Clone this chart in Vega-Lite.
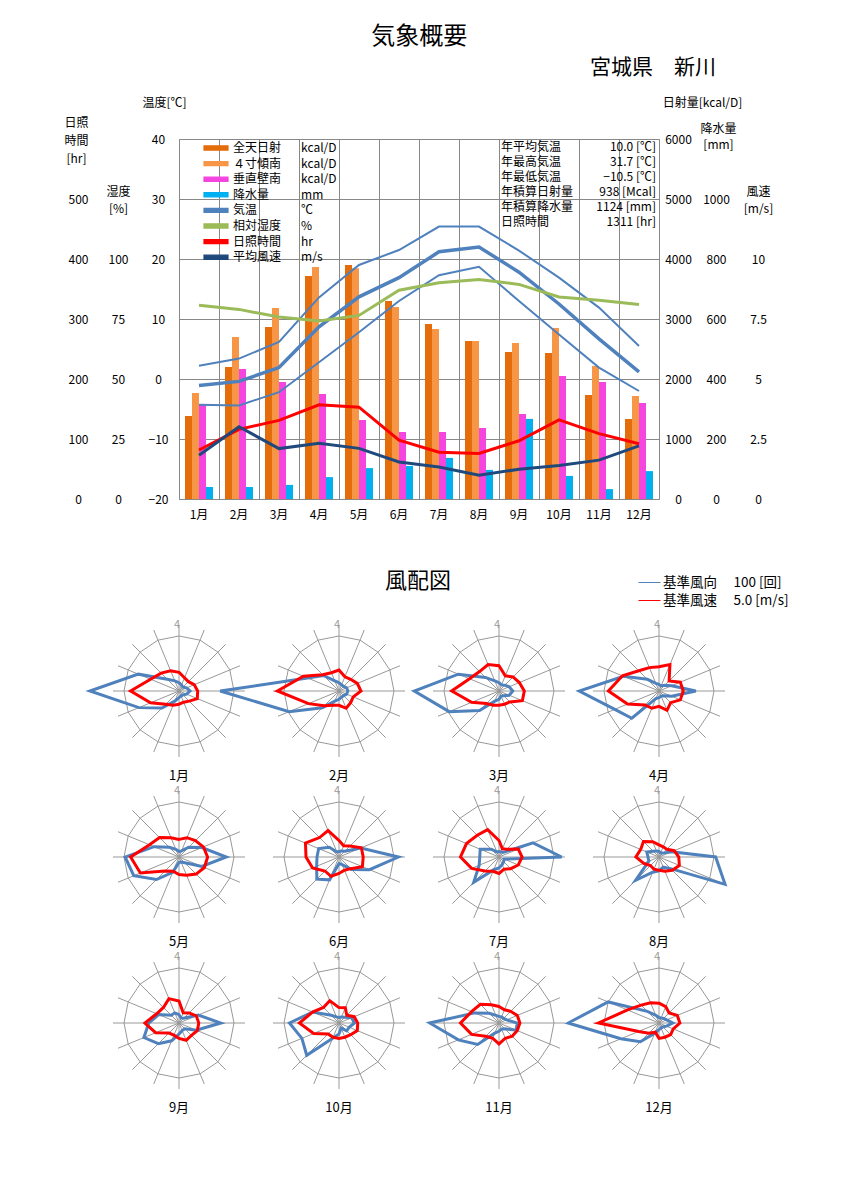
{
 "$schema": "https://vega.github.io/schema/vega-lite/v6.json",
 "background": "white",
 "padding": {"left": 63, "top": 24, "right": 5, "bottom": 5},
 "resolve": {"scale": {"color": "independent"}, "legend": {"color": "independent"}},
 "config": {
  "font": "Noto Sans CJK JP",
  "view": {"stroke": null},
  "axis": {"labelFont": "Noto Sans CJK JP", "titleFont": "Noto Sans CJK JP", "labelColor": "#000", "titleColor": "#000", "labelFontSize": 12, "titleFontSize": 12, "titleFontWeight": "normal"},
  "legend": {"labelFont": "Noto Sans CJK JP", "labelFontSize": 12, "labelColor": "#000"},
  "title": {"font": "Noto Sans CJK JP", "fontWeight": "normal", "color": "#000"},
  "header": {"labelFont": "Noto Sans CJK JP", "labelFontSize": 13, "labelColor": "#000"}
 },
 "title": {"text": "気象概要", "fontSize": 24, "anchor": "middle", "offset": 8, "dx": -12},
 "spacing": 49,
 "vconcat": [
  {
   "width": 480,
   "height": 360,
   "view": {"stroke": "#888"},
   "title": {"text": "宮城県　新川", "fontSize": 21, "anchor": "end", "frame": "group", "dx": 57, "offset": 18},
   "data": {"values": [
    {"m": "1月", "全天日射": 1383, "４寸傾南": 1767, "垂直壁南": 1567, "降水量": 40, "最高": 2.2, "平均": -1.1, "最低": -4.3, "相対湿度": 80.7, "日照時間": 81.7, "平均風速": 1.82},
    {"m": "2月", "全天日射": 2200, "４寸傾南": 2700, "垂直壁南": 2167, "降水量": 40, "最高": 3.4, "平均": -0.4, "最低": -4.4, "相対湿度": 79.0, "日照時間": 116, "平均風速": 3.01},
    {"m": "3月", "全天日射": 2867, "４寸傾南": 3183, "垂直壁南": 1950, "降水量": 47, "最高": 6.2, "平均": 1.9, "最低": -2.2, "相対湿度": 75.8, "日照時間": 131, "平均風速": 2.10},
    {"m": "4月", "全天日射": 3717, "４寸傾南": 3867, "垂直壁南": 1750, "降水量": 73, "最高": 13.6, "平均": 8.7, "最低": 2.8, "相対湿度": 74.2, "日照時間": 157, "平均風速": 2.32},
    {"m": "5月", "全天日射": 3900, "４寸傾南": 3845, "垂直壁南": 1317, "降水量": 103, "最高": 19.0, "平均": 13.7, "最低": 7.8, "相対湿度": 76.5, "日照時間": 153, "平均風速": 2.11},
    {"m": "6月", "全天日射": 3300, "４寸傾南": 3200, "垂直壁南": 1117, "降水量": 110, "最高": 21.5, "平均": 16.9, "最低": 13.0, "相対湿度": 87.0, "日照時間": 98, "平均風速": 1.54},
    {"m": "7月", "全天日射": 2917, "４寸傾南": 2833, "垂直壁南": 1117, "降水量": 137, "最高": 25.4, "平均": 21.2, "最低": 17.3, "相対湿度": 90.1, "日照時間": 78, "平均風速": 1.33},
    {"m": "8月", "全天日射": 2633, "４寸傾南": 2633, "垂直壁南": 1183, "降水量": 97, "最高": 25.4, "平均": 22.0, "最低": 18.7, "相対湿度": 91.5, "日照時間": 76, "平均風速": 0.99},
    {"m": "9月", "全天日射": 2450, "４寸傾南": 2600, "垂直壁南": 1417, "降水量": 267, "最高": 21.4, "平均": 17.8, "最低": 13.0, "相対湿度": 89.4, "日照時間": 97, "平均風速": 1.24},
    {"m": "10月", "全天日射": 2433, "４寸傾南": 2850, "垂直壁南": 2050, "降水量": 77, "最高": 16.9, "平均": 12.5, "最低": 7.4, "相対湿度": 84.2, "日照時間": 132, "平均風速": 1.40},
    {"m": "11月", "全天日射": 1733, "４寸傾南": 2217, "垂直壁南": 1950, "降水量": 33, "最高": 11.9, "平均": 6.7, "最低": 1.9, "相対湿度": 82.8, "日照時間": 109, "平均風速": 1.62},
    {"m": "12月", "全天日射": 1333, "４寸傾南": 1717, "垂直壁南": 1600, "降水量": 93, "最高": 5.5, "平均": 1.2, "最低": -2.0, "相対湿度": 81.0, "日照時間": 92, "平均風速": 2.21}
   ]},
   "resolve": {"scale": {"y": "independent"}, "axis": {"y": "independent"}},
   "layer": [
    {
     "transform": [{"fold": ["全天日射", "４寸傾南", "垂直壁南"], "as": ["series", "value"]}],
     "mark": {"type": "bar"},
     "encoding": {
      "x": {"field": "m", "type": "nominal", "sort": null, "title": null, "scale": {"paddingInner": 0, "paddingOuter": 0},
            "axis": {"orient": "bottom", "labelAngle": 0, "ticks": false, "tickSize": 0, "domain": false, "grid": false, "labelPadding": 10, "labelFontSize": 12}},
      "xOffset": {"field": "series", "type": "nominal", "scale": {"domain": ["全天日射", "４寸傾南", "垂直壁南", "降水量"], "paddingInner": 0, "paddingOuter": 0.857}},
      "y": {"field": "value", "type": "quantitative", "scale": {"domain": [0, 6000], "nice": false},
            "axis": {"orient": "right", "values": [0, 1000, 2000, 3000, 4000, 5000, 6000], "format": "d", "grid": false, "ticks": false, "tickSize": 0, "domain": false, "labelAlign": "center", "labelPadding": 19, "labelBaseline": "middle",
                     "title": "日射量[kcal/D]", "titleAngle": 0, "titleX": 43, "titleY": -37, "titleAlign": "center", "titleBaseline": "middle"}},
      "color": {"field": "series", "type": "nominal",
                "scale": {"domain": ["全天日射", "４寸傾南", "垂直壁南", "降水量", "気温", "相対湿度", "日照時間", "平均風速"], "range": ["#E46C0A", "#F79646", "#F545E0", "#00B0F0", "#4F81BD", "#9BBB59", "#FF0000", "#1F497D"]},
                "legend": {"orient": "none", "legendX": 30, "legendY": 2, "title": null, "symbolType": "M-2,-0.35H2V0.35H-2Z", "symbolSize": 144, "symbolStrokeWidth": 1.2, "labelFontSize": 12, "rowPadding": 2.6, "labelOffset": 10, "padding": 0,
                           "labelExpr": "['全天日射\u3000\u00a0\u00a0\u00a0kcal/D','４寸傾南\u3000\u00a0\u00a0\u00a0kcal/D','垂直壁南\u3000\u00a0\u00a0\u00a0kcal/D','降水量\u3000\u3000\u00a0\u00a0\u00a0mm','気温\u3000\u3000\u3000\u00a0\u00a0\u00a0℃','相対湿度\u3000\u00a0\u00a0\u00a0%','日照時間\u3000\u00a0\u00a0\u00a0hr','平均風速\u3000\u00a0\u00a0\u00a0m/s'][indexof(['全天日射','４寸傾南','垂直壁南','降水量','気温','相対湿度','日照時間','平均風速'], datum.label)]"}}
     }
    },
    {
     "transform": [{"fold": ["降水量"], "as": ["series", "value"]}],
     "mark": {"type": "bar"},
     "encoding": {
      "x": {"field": "m", "type": "nominal", "sort": null, "title": null, "scale": {"paddingInner": 0, "paddingOuter": 0},
            "axis": {"orient": "top", "labels": false, "ticks": false, "tickSize": 0, "domain": false, "grid": true, "gridColor": "#888", "gridWidth": 1, "bandPosition": 0}},
      "xOffset": {"field": "series", "type": "nominal", "scale": {"domain": ["全天日射", "４寸傾南", "垂直壁南", "降水量"], "paddingInner": 0, "paddingOuter": 0.857}},
      "y": {"field": "value", "type": "quantitative", "scale": {"domain": [0, 1200], "nice": false},
            "axis": {"orient": "right", "values": [0, 200, 400, 600, 800, 1000], "format": "d", "grid": false, "ticks": false, "tickSize": 0, "domain": false, "labelAlign": "center", "labelPadding": 57, "labelBaseline": "middle",
                     "title": ["降水量", "[mm]"], "titleAngle": 0, "titleX": 59, "titleY": -16, "titleAlign": "center", "titleBaseline": "top", "titleLineHeight": 16}},
      "color": {"field": "series", "type": "nominal"}
     }
    },
    {
     "transform": [{"fold": ["最高", "最低"], "as": ["k", "t"]}],
     "mark": {"type": "line", "strokeWidth": 2},
     "encoding": {
      "x": {"field": "m", "type": "nominal", "sort": null, "title": null, "scale": {"paddingInner": 0, "paddingOuter": 0}, "axis": null},
      "y": {"field": "t", "type": "quantitative", "scale": {"domain": [-20, 40], "nice": false},
            "axis": {"orient": "left", "values": [-20, -10, 0, 10, 20, 30, 40], "grid": true, "gridColor": "#888", "gridWidth": 1, "ticks": false, "tickSize": 0, "domain": false, "labelAlign": "center", "labelPadding": 21, "labelBaseline": "middle",
                     "title": "温度[℃]", "titleAngle": 0, "titleX": -15, "titleY": -37, "titleAlign": "center", "titleBaseline": "middle"}},
      "detail": {"field": "k", "type": "nominal"},
      "color": {"datum": "気温", "type": "nominal"}
     }
    },
    {
     "mark": {"type": "line", "strokeWidth": 3.5},
     "encoding": {
      "x": {"field": "m", "type": "nominal", "sort": null, "title": null, "scale": {"paddingInner": 0, "paddingOuter": 0}, "axis": null},
      "y": {"field": "平均", "type": "quantitative", "scale": {"domain": [-20, 40], "nice": false}, "axis": null},
      "color": {"datum": "気温", "type": "nominal"}
     }
    },
    {
     "mark": {"type": "line", "strokeWidth": 3},
     "encoding": {
      "x": {"field": "m", "type": "nominal", "sort": null, "title": null, "scale": {"paddingInner": 0, "paddingOuter": 0}, "axis": null},
      "y": {"field": "相対湿度", "type": "quantitative", "scale": {"domain": [0, 150], "nice": false},
            "axis": {"orient": "left", "values": [0, 25, 50, 75, 100], "grid": false, "ticks": false, "tickSize": 0, "domain": false, "labelAlign": "center", "labelPadding": 61, "labelBaseline": "middle",
                     "title": ["湿度", "[%]"], "titleAngle": 0, "titleX": -61, "titleY": 47, "titleAlign": "center", "titleBaseline": "top", "titleLineHeight": 17}},
      "color": {"datum": "相対湿度", "type": "nominal"}
     }
    },
    {
     "mark": {"type": "line", "strokeWidth": 3},
     "encoding": {
      "x": {"field": "m", "type": "nominal", "sort": null, "title": null, "scale": {"paddingInner": 0, "paddingOuter": 0}, "axis": null},
      "y": {"field": "日照時間", "type": "quantitative", "scale": {"domain": [0, 600], "nice": false},
            "axis": {"orient": "left", "values": [0, 100, 200, 300, 400, 500], "grid": false, "ticks": false, "tickSize": 0, "domain": false, "labelAlign": "center", "labelPadding": 101, "labelBaseline": "middle",
                     "title": ["日照", "時間", "[hr]"], "titleAngle": 0, "titleX": -103, "titleY": -22, "titleAlign": "center", "titleBaseline": "top", "titleLineHeight": 18}},
      "color": {"datum": "日照時間", "type": "nominal"}
     }
    },
    {
     "mark": {"type": "line", "strokeWidth": 3},
     "encoding": {
      "x": {"field": "m", "type": "nominal", "sort": null, "title": null, "scale": {"paddingInner": 0, "paddingOuter": 0}, "axis": null},
      "y": {"field": "平均風速", "type": "quantitative", "scale": {"domain": [0, 15], "nice": false},
            "axis": {"orient": "right", "values": [0, 2.5, 5, 7.5, 10], "labelExpr": "'' + datum.value", "grid": false, "ticks": false, "tickSize": 0, "domain": false, "labelAlign": "center", "labelPadding": 99, "labelBaseline": "middle",
                     "title": ["風速", "[m/s]"], "titleAngle": 0, "titleX": 99, "titleY": 47, "titleAlign": "center", "titleBaseline": "top", "titleLineHeight": 17}},
      "color": {"datum": "平均風速", "type": "nominal"}
     }
    },
    {
     "data": {"values": [
      {"label": "年平均気温", "v": "10.0 [℃]"},
      {"label": "年最高気温", "v": "31.7 [℃]"},
      {"label": "年最低気温", "v": "−10.5 [℃]"},
      {"label": "年積算日射量", "v": "938 [Mcal]"},
      {"label": "年積算降水量", "v": "1124 [mm]"},
      {"label": "日照時間", "v": "1311 [hr]"}
     ]},
     "transform": [{"window": [{"op": "row_number", "as": "i"}]}],
     "mark": {"type": "text", "align": "left", "baseline": "middle", "dx": 82, "fontSize": 12, "color": "#000"},
     "encoding": {
      "y": {"field": "i", "type": "quantitative", "axis": null, "scale": {"domain": [24.5, 0.5], "nice": false, "zero": false}},
      "text": {"field": "label"}
     }
    },
    {
     "data": {"values": [
      {"label": "年平均気温", "v": "10.0 [℃]"},
      {"label": "年最高気温", "v": "31.7 [℃]"},
      {"label": "年最低気温", "v": "−10.5 [℃]"},
      {"label": "年積算日射量", "v": "938 [Mcal]"},
      {"label": "年積算降水量", "v": "1124 [mm]"},
      {"label": "日照時間", "v": "1311 [hr]"}
     ]},
     "transform": [{"window": [{"op": "row_number", "as": "i"}]}],
     "mark": {"type": "text", "align": "right", "baseline": "middle", "dx": 237, "fontSize": 12, "color": "#000"},
     "encoding": {
      "y": {"field": "i", "type": "quantitative", "axis": null, "scale": {"domain": [24.5, 0.5], "nice": false, "zero": false}},
      "text": {"field": "v"}
     }
    }
   ]
  },
  {
   "data": {"values": [
    {"m": "1月", "d": [0,1,2,3,4,5,6,7,8,9,10,11,12,13,14,15], "f": [15,12,10,15,20,15,10,10,12,20,44,79,162,80,30,20], "s": [1.7,1.3,1.2,1.5,1.7,1.8,1.3,1.1,1.2,1.4,1.7,2.8,4.4,2.8,2.3,2.0]},
    {"m": "2月", "d": [0,1,2,3,4,5,6,7,8,9,10,11,12,13,14,15], "f": [15,12,12,15,16,15,12,12,15,20,43,98,216,62,40,20], "s": [1.9,1.4,1.5,1.8,2.0,1.4,1.5,1.7,1.3,1.4,1.9,3.0,5.6,3.5,2.1,1.8]},
    {"m": "3月", "d": [0,1,2,3,4,5,6,7,8,9,10,11,12,13,14,15], "f": [15,12,15,20,25,20,12,10,15,20,50,98,154,80,35,20], "s": [2.3,1.5,1.8,2.0,2.3,2.3,1.4,1.3,1.3,1.4,1.6,2.7,4.3,2.9,2.5,2.6]},
    {"m": "4月", "d": [0,1,2,3,4,5,6,7,8,9,10,11,12,13,14,15], "f": [12,10,15,25,67,25,12,10,12,15,70,87,145,70,30,15], "s": [2.2,2.6,1.3,2.1,2.2,2.1,1.5,1.9,1.4,1.7,1.8,3.1,4.6,3.6,2.6,2.3]},
    {"m": "5月", "d": [0,1,2,3,4,5,6,7,8,9,10,11,12,13,14,15], "f": [10,12,25,45,86,45,15,10,10,30,58,89,98,49,25,15], "s": [1.6,1.9,2.1,2.4,2.6,2.5,2.2,1.8,1.6,1.4,1.8,3.8,4.4,2.9,2.5,1.9]},
    {"m": "6月", "d": [0,1,2,3,4,5,6,7,8,9,10,11,12,13,14,15], "f": [10,12,15,43,108,60,32,15,12,45,57,44,40,40,25,10], "s": [1.5,1.1,1.4,2.2,2.2,2.3,1.5,1.3,1.5,1.9,1.8,2.6,3.0,3.3,2.5,2.6]},
    {"m": "7月", "d": [0,1,2,3,4,5,6,7,8,9,10,11,12,13,14,15], "f": [10,10,12,67,114,10,12,15,20,25,65,39,35,37,20,10], "s": [1.5,0.8,1.0,1.9,2.1,1.9,1.5,1.2,1.5,1.4,1.8,2.7,3.5,3.2,2.8,2.7]},
    {"m": "8月", "d": [0,1,2,3,4,5,6,7,8,9,10,11,12,13,14,15], "f": [10,8,10,25,103,130,30,20,25,30,60,20,20,24,15,12], "s": [1.1,1.0,1.0,1.5,1.8,2.0,1.7,1.4,1.2,1.2,1.1,1.5,2.1,1.8,2.0,1.5]},
    {"m": "9月", "d": [0,1,2,3,4,5,6,7,8,9,10,11,12,13,14,15], "f": [15,10,12,38,76,34,15,15,20,35,53,69,55,40,20,20], "s": [2.0,1.0,1.3,1.7,1.8,1.8,1.6,1.7,1.4,1.2,1.3,2.3,3.1,2.2,2.0,2.4]},
    {"m": "10月", "d": [0,1,2,3,4,5,6,7,8,9,10,11,12,13,14,15], "f": [10,12,15,25,28,20,20,10,20,30,83,73,90,52,20,12], "s": [1.4,1.5,1.0,1.5,1.7,1.8,1.5,1.4,1.4,1.4,1.4,2.5,3.6,2.6,2.0,2.2]},
    {"m": "11月", "d": [0,1,2,3,4,5,6,7,8,9,10,11,12,13,14,15], "f": [12,12,12,15,33,34,15,12,15,20,55,80,126,48,25,15], "s": [1.5,1.3,1.5,1.8,1.9,1.8,1.7,1.5,1.9,1.5,1.7,2.7,3.5,2.7,2.4,1.8]},
    {"m": "12月", "d": [0,1,2,3,4,5,6,7,8,9,10,11,12,13,14,15], "f": [10,10,12,15,25,15,10,10,12,20,48,75,165,100,30,15], "s": [1.8,1.6,1.3,1.8,1.9,1.4,1.5,1.4,1.4,0.9,1.3,2.0,5.5,3.1,2.3,2.0]}
   ]},
   "transform": [
    {"flatten": ["d", "f", "s"]},
    {"calculate": "datum.d * PI / 8", "as": "a"},
    {"calculate": "0", "as": "o"},
    {"calculate": "sin(datum.a)", "as": "gx"},
    {"calculate": "cos(datum.a)", "as": "gy"},
    {"calculate": "1.2 * sin(datum.a)", "as": "sx"},
    {"calculate": "1.2 * cos(datum.a)", "as": "sy"},
    {"calculate": "datum.f / 100 * sin(datum.a)", "as": "bx"},
    {"calculate": "datum.f / 100 * cos(datum.a)", "as": "by"},
    {"calculate": "datum.s / 5 * sin(datum.a)", "as": "rx"},
    {"calculate": "datum.s / 5 * cos(datum.a)", "as": "ry"}
   ],
   "title": {"text": "風配図", "fontSize": 22, "anchor": "start", "align": "center", "frame": "group", "dx": 239, "offset": -22},
   "facet": {"field": "m", "type": "nominal", "sort": ["1月","2月","3月","4月","5月","6月","7月","8月","9月","10月","11月","12月"],
             "header": {"title": null, "labelOrient": "bottom", "labelPadding": 9, "labelFontSize": 13, "labelAnchor": "start", "labelAlign": "center"}},
   "columns": 4,
   "bounds": "flush",
   "spacing": {"row": 26, "column": 20},
   "spec": {
    "width": 140,
    "height": 140,
    "view": {"stroke": null},
    "layer": [
     {
      "mark": {"type": "line", "interpolate": "linear-closed", "color": "#999", "strokeWidth": 1},
      "encoding": {
       "x": {"field": "gx", "type": "quantitative", "scale": {"domain": [0, 2.5455], "nice": false, "zero": false}, "axis": null},
       "y": {"field": "gy", "type": "quantitative", "scale": {"domain": [-1.2727, 1.2727], "nice": false, "zero": false}, "axis": null},
       "order": {"field": "d", "type": "quantitative"}
      }
     },
     {
      "mark": {"type": "rule", "color": "#999", "strokeWidth": 1},
      "encoding": {
       "x": {"field": "o", "type": "quantitative"},
       "y": {"field": "o", "type": "quantitative"},
       "x2": {"field": "sx"},
       "y2": {"field": "sy"}
      }
     },
     {
      "transform": [{"filter": "datum.d == 0"}],
      "mark": {"type": "text", "text": "4", "color": "#999", "fontSize": 11, "baseline": "middle", "dx": -2},
      "encoding": {
       "x": {"field": "sx", "type": "quantitative"},
       "y": {"field": "sy", "type": "quantitative"}
      }
     },
     {
      "mark": {"type": "line", "interpolate": "linear-closed", "strokeWidth": 3},
      "encoding": {
       "x": {"field": "bx", "type": "quantitative"},
       "y": {"field": "by", "type": "quantitative"},
       "order": {"field": "d", "type": "quantitative"},
       "color": {"datum": "基準風向", "type": "nominal",
                 "scale": {"domain": ["基準風向", "基準風速"], "range": ["#4F81BD", "#FF0000"]},
                 "legend": {"orient": "none", "legendX": 459, "legendY": -50, "title": null, "symbolType": "stroke", "symbolSize": 484, "symbolStrokeWidth": 1, "labelFontSize": 13.5, "rowPadding": -6, "padding": 0, "labelOffset": 2,
                            "labelExpr": "datum.label == '基準風向' ? '基準風向\u3000\u00a0100 [回]' : '基準風速\u3000\u00a05.0 [m/s]'"}}
      }
     },
     {
      "mark": {"type": "line", "interpolate": "linear-closed", "strokeWidth": 3},
      "encoding": {
       "x": {"field": "rx", "type": "quantitative"},
       "y": {"field": "ry", "type": "quantitative"},
       "order": {"field": "d", "type": "quantitative"},
       "color": {"datum": "基準風速", "type": "nominal"}
      }
     }
    ]
   }
  }
 ]
}
